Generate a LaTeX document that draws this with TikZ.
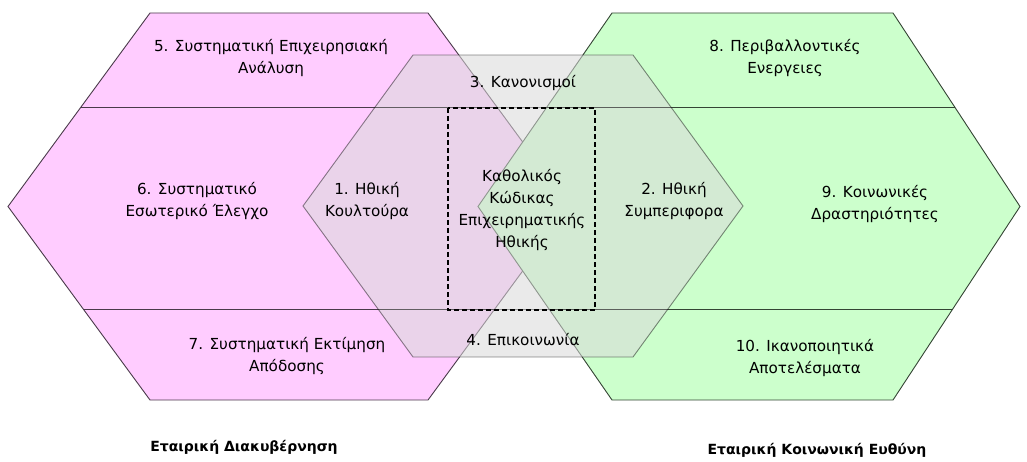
\documentclass[tikz,border=0pt]{standalone}
\usepackage{fontspec}
\setmainfont{DejaVu Sans}
\begin{document}
\begin{tikzpicture}[x=1pt,y=-1pt,
  lbl/.style={align=center,inner sep=0pt,text=black,font=\fontsize{15.2}{22}\selectfont},
  ttl/.style={align=center,inner sep=0pt,text=black,font=\fontsize{14}{18}\selectfont\bfseries},
  hexline/.style={line width=0.9pt},
  codebox/.style={draw=black,line width=2.4pt,dash pattern=on 5pt off 3pt}]
\useasboundingbox (0,0) rectangle (1027,462);
\definecolor{pinkfill}{HTML}{FFCCFF}
\definecolor{greenfill}{HTML}{CCFFCC}
\definecolor{greyfill}{HTML}{D9D9D9}
\definecolor{pinkline}{HTML}{4A3A4A}
\definecolor{greenline}{HTML}{344434}
\def\pinkhex{(150,13) -- (428,13) -- (570,206.5) -- (428,400) -- (150,400) -- (8,206.5) -- cycle}
\def\greenhex{(612,13) -- (893,13) -- (1020,206.5) -- (893,400) -- (612,400) -- (478,206.5) -- cycle}
\def\greyhex{(413,55) -- (633,55) -- (743,206) -- (633,357) -- (413,357) -- (303,206) -- cycle}

% Corporate governance hexagon
\fill[pinkfill] \pinkhex;
\begin{scope}
  \clip \pinkhex;
  \draw[hexline,pinkline] (0,107) -- (1027,107) (0,309) -- (1027,309);
\end{scope}
\draw[hexline,pinkline] \pinkhex;

% Corporate social responsibility hexagon
\fill[greenfill] \greenhex;
\begin{scope}
  \clip \greenhex;
  \draw[hexline,greenline] (0,107) -- (1027,107) (0,309) -- (1027,309);
\end{scope}
\draw[hexline,greenline] \greenhex;

% Business ethics hexagon, translucent over both
\fill[greyfill,fill opacity=0.55] \greyhex;
\begin{scope}
  \clip \greyhex;
  \draw[hexline,black,opacity=0.35] (0,107) -- (1027,107) (0,309) -- (1027,309);
\end{scope}
\draw[hexline,black,opacity=0.45] \greyhex;

% Code of ethics frame
\draw[codebox] (448,108) rectangle (595,310);

% Labels
\node[lbl] (n5) at (271,58.5) {5. Συστηματική Επιχειρησιακή\\Ανάλυση};
\node[lbl] (n8) at (785,58.5) {8. Περιβαλλοντικές\\Ενεργειες};
\node[lbl] (n3) at (523,83) {3. Κανονισμοί};
\node[lbl] (n6) at (197,201) {6. Συστηματικό\\Εσωτερικό Έλεγχο};
\node[lbl] (n1) at (367,201) {1. Ηθική\\Κουλτούρα};
\node[lbl] (code) at (522,210) {Καθολικός\\Κώδικας\\Επιχειρηματικής\\Ηθικής};
\node[lbl] (n2) at (674,201) {2. Ηθική\\Συμπεριφορα};
\node[lbl] (n9) at (875,204) {9. Κοινωνικές\\Δραστηριότητες};
\node[lbl] (n4) at (523,340) {4. Επικοινωνία};
\node[lbl] (n7) at (287,356) {7. Συστηματική Εκτίμηση\\Απόδοσης};
\node[lbl] (n10) at (805,358) {10. Ικανοποιητικά\\Αποτελέσματα};

% Titles
\node[ttl] (gov) at (244,447) {Εταιρική Διακυβέρνηση};
\node[ttl] (csr) at (817,450) {Εταιρική Κοινωνική Ευθύνη};
\end{tikzpicture}
\end{document}
